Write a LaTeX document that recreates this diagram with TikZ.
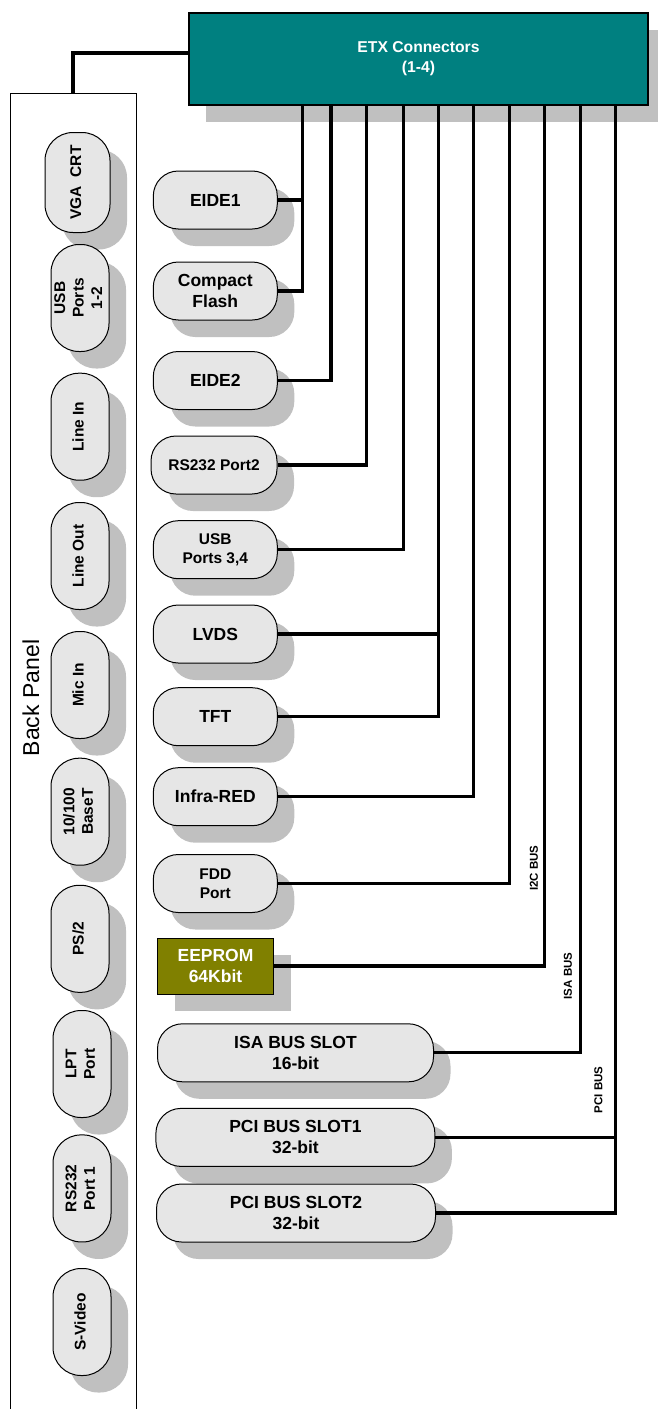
\documentclass[tikz,border=0pt]{standalone}
\usepackage{fontspec}
\setmainfont{Liberation Sans}
\usepackage{graphicx}
\usetikzlibrary{shadows}
\definecolor{etxteal}{HTML}{008080}
\definecolor{boxgray}{HTML}{E6E6E6}
\definecolor{shadegray}{HTML}{C0C0C0}
\definecolor{eepromolive}{HTML}{808000}
\newcommand{\biglabel}{\bfseries\fontsize{17.5}{21}\selectfont}
\newcommand{\midlabel}{\bfseries\fontsize{15.5}{19.5}\selectfont}
\newcommand{\portlabel}[1]{\rotatebox{90}{\begin{tabular}{@{}c@{}}#1\end{tabular}}}
\tikzset{
  solidshadow/.style={drop shadow={shadow xshift=17pt,shadow yshift=-17pt,fill=shadegray,opacity=1}},
  device/.style={draw,line width=1pt,fill=boxgray,rounded corners=25pt,minimum width=124pt,
    minimum height=58pt,inner sep=2pt,align=center,font=\biglabel,solidshadow},
  portbox/.style={draw,line width=1pt,fill=boxgray,rounded corners=28pt,minimum width=58pt,
    minimum height=107pt,inner sep=1pt,font=\bfseries\fontsize{15.5}{18.5}\selectfont,solidshadow},
  bus/.style={line width=3.2pt},
  buslabel/.style={rotate=90,font=\bfseries\fontsize{11.5}{13}\selectfont}
}
\begin{document}
\begin{tikzpicture}[x=1pt,y=-1pt,line join=miter]
\useasboundingbox (0,0) rectangle (657,1409);
% ETX connectors
\node[draw,line width=1.2pt,fill=etxteal,text=white,minimum width=459pt,minimum height=92pt,
  align=center,font=\bfseries\fontsize{15.7}{20}\selectfont,solidshadow] (etx) at (418.5,59) {ETX Connectors\\(1-4)};
\foreach \i/\x in {1/302.5,2/331,3/366.6,4/403.4,5/438.2,6/473.8,7/509.5,8/544.6,9/580.2,10/615.8}
  \coordinate (c\i) at (\x,105);

% back panel
\coordinate (paneltop) at (73,93);
\draw[line width=1pt] (10,1409) |- (136,93) -- (136,1409);
\node[rotate=90,font=\fontsize{23}{27}\selectfont] (bplabel) at (31,698) {Back Panel};
\draw[bus] ([yshift=6pt]etx.west) -| (paneltop);

\node[portbox,minimum width=65pt,minimum height=100pt] (vga) at (77.5,182.5) {\portlabel{VGA\ \ CRT}};
\node[portbox] (usb12) at (80,298) {\portlabel{USB\\Ports\\1-2}};
\node[portbox] (linein) at (80,426.7) {\portlabel{Line In}};
\node[portbox] (lineout) at (80,556) {\portlabel{Line Out}};
\node[portbox] (micin) at (80,685) {\portlabel{Mic In}};
\node[portbox] (lan) at (80,811.7) {\portlabel{10/100\\BaseT}};
\node[portbox] (ps2) at (80,938.8) {\portlabel{PS/2}};
\node[portbox] (lpt) at (82,1064) {\portlabel{LPT\\Port}};
\node[portbox] (rsport1) at (82,1188.4) {\portlabel{RS232\\Port 1}};
\node[portbox] (svideo) at (82,1322) {\portlabel{S-Video}};

% devices
\node[device] (eide1) at (215.3,200) {EIDE1};
\node[device] (cflash) at (215.3,291) {Compact\\Flash};
\node[device] (eide2) at (215.3,380.5) {EIDE2};
\node[device,minimum width=126pt,font=\midlabel] (rsport2) at (214,465) {RS232 Port2};
\node[device,font=\midlabel] (usb34) at (215.3,549.7) {USB\\Ports 3,4};
\node[device] (lvds) at (215.3,634) {LVDS};
\node[device] (tft) at (215.3,716.7) {TFT};
\node[device] (infrared) at (215.3,796.7) {Infra-RED};
\node[device,font=\midlabel] (fdd) at (215.3,883.5) {FDD\\Port};
\node[draw,line width=1pt,fill=eepromolive,text=white,minimum width=116pt,minimum height=56pt,
  align=center,font=\biglabel,solidshadow] (eeprom) at (215.5,966) {EEPROM\\64Kbit};
\node[device,minimum width=276pt] (isaslot) at (295.5,1052.8) {ISA BUS SLOT\\16-bit};
\node[device,minimum width=279pt] (pcislot1) at (295.4,1137.4) {PCI BUS SLOT1\\32-bit};
\node[device,minimum width=279pt] (pcislot2) at (296,1213) {PCI BUS SLOT2\\32-bit};

% buses
\foreach \from/\to in {c1/eide1,c1/cflash,c2/eide2,c3/rsport2,c4/usb34,c5/lvds,c5/tft,
  c6/infrared,c7/fdd,c8/eeprom,c9/isaslot,c10/pcislot1,c10/pcislot2}
  \draw[bus] (\from) |- (\to.east);
\node[buslabel] (i2clabel) at (534,868) {I2C BUS};
\node[buslabel] (isalabel) at (568,976) {ISA BUS};
\node[buslabel] (pcilabel) at (598.5,1090) {PCI BUS};
\end{tikzpicture}
\end{document}
